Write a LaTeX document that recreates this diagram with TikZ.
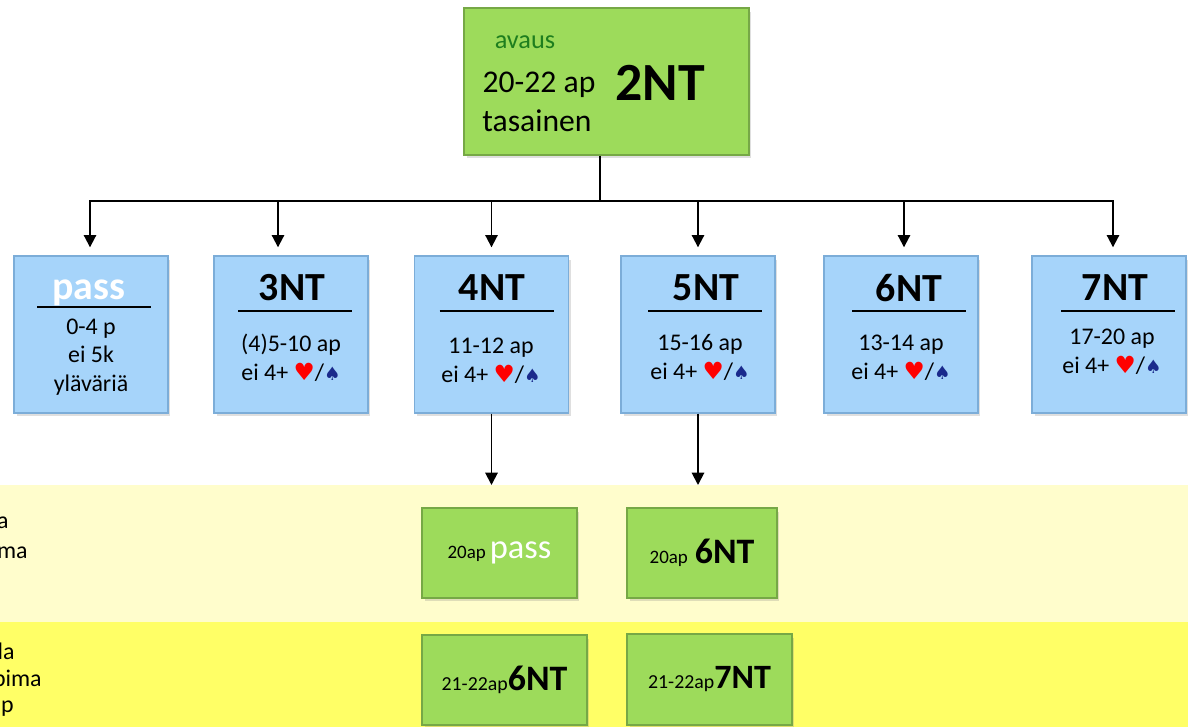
\documentclass[tikz,border=0pt]{standalone}
\usepackage{fontspec}
\setmainfont{Carlito}
\newfontfamily\suitfont{DejaVu Sans}
\usepackage{xcolor}
\definecolor{boxgreen}{HTML}{9DDB5B}
\definecolor{edgegreen}{HTML}{76A846}
\definecolor{boxblue}{HTML}{A6D4FA}
\definecolor{edgeblue}{HTML}{7CADD8}
\definecolor{bandpale}{HTML}{FFFDCC}
\definecolor{bandyellow}{HTML}{FFFF66}
\definecolor{avausgreen}{HTML}{1E7E1E}
\definecolor{spadeblue}{HTML}{1A2A8C}
\usetikzlibrary{arrows.meta,shadows}
\newcommand{\fs}[2]{\fontsize{#1}{#2}\selectfont}
\newcommand{\hearts}{{\suitfont\color{red}\fs{13.5}{16}♥}}
\newcommand{\spades}{{\suitfont\color{spadeblue}\fs{10.5}{16}♠}}

\begin{document}
\begin{tikzpicture}[x=0.02cm,y=-0.02cm,
    greenbox/.style={draw=edgegreen,line width=0.8pt,fill=boxgreen,inner sep=0pt,
      drop shadow={shadow xshift=0.05cm,shadow yshift=-0.07cm,opacity=0.25}},
    bluebox/.style={draw=edgeblue,line width=0.8pt,fill=boxblue,inner sep=0pt,
      minimum width=3.08cm,minimum height=3.14cm,
      drop shadow={shadow xshift=0.05cm,shadow yshift=-0.07cm,opacity=0.25}},
    bidtitle/.style={font=\bfseries\fs{22.7}{26},inner sep=0pt},
    detail/.style={font=\fs{13.6}{16.4},align=center,inner sep=0pt},
    rulel/.style={line width=1.1pt},
    conn/.style={line width=1.1pt},
    arr/.style={line width=1.1pt,-{Triangle[width=7pt,length=7pt]}},
    frag/.style={font=\fs{13.6}{16},anchor=east,inner sep=0pt}]
  \useasboundingbox (0,0) rectangle (1188,727);

  % taustakaistat
  \node[fill=bandpale,minimum width=23.76cm,minimum height=2.74cm,inner sep=0pt,
        anchor=north west] (bandA) at (0,485) {};
  \node[fill=bandyellow,minimum width=23.76cm,minimum height=2.1cm,inner sep=0pt,
        anchor=north west] (bandB) at (0,622) {};
  \node[frag] (fa1) at (9,523) {a};
  \node[frag] (fa2) at (28,550) {ima};
  \node[frag] (fb1) at (15,651) {la};
  \node[frag] (fb2) at (42,680) {pima};
  \node[frag] (fb3) at (14,709) {ap};

  % avaus
  \node[greenbox,minimum width=5.7cm,minimum height=2.94cm] (top) at (606.5,81.5) {};
  \node[font=\fs{15}{18},text=avausgreen,inner sep=0pt] (avaus) at (525,42) {avaus};
  \node[font=\fs{18}{21},inner sep=0pt] (hcp) at (539,85) {20-22 ap};
  \node[font=\fs{18}{21},inner sep=0pt] (tas) at (537,121) {tasainen};
  \node[font=\bfseries\fs{30.6}{34},inner sep=0pt] (bid) at (660,83) {2NT};

  % vastaukset
  \node[bluebox] (pass) at (91,334.5) {};
  \node[bidtitle,text=white] (passt) at (89,293) {pass};
  \draw[rulel] (pass.north) ++(-54,52) -- ++(114,0);
  \node[detail] (passd) at (91,357) {0-4 p\\ei 5k\\yläväriä};

  \node[bluebox] (nt3) at (291,334.5) {};
  \node[bidtitle] (nt3t) at (292,288) {3NT};
  \draw[rulel] (nt3.north) ++(-53,56) -- ++(114,0);
  \node[detail] (nt3d) at (291,358) {(4)5-10 ap\\ei 4+ \hearts/\spades};

  \node[bluebox] (nt4) at (491.5,334.5) {};
  \node[bidtitle] (nt4t) at (492,288) {4NT};
  \draw[rulel] (nt4.north) ++(-52,56) -- ++(114,0);
  \node[detail] (nt4d) at (491,361) {11-12 ap\\ei 4+ \hearts/\spades};

  \node[bluebox] (nt5) at (698,334.5) {};
  \node[bidtitle] (nt5t) at (706,288) {5NT};
  \draw[rulel] (nt5.north) ++(-50,56) -- ++(114,0);
  \node[detail] (nt5d) at (700,357.5) {15-16 ap\\ei 4+ \hearts/\spades};

  \node[bluebox] (nt6) at (901,334.5) {};
  \node[bidtitle] (nt6t) at (909,288) {6NT};
  \draw[rulel] (nt6.north) ++(-49,56) -- ++(114,0);
  \node[detail] (nt6d) at (901,357.5) {13-14 ap\\ei 4+ \hearts/\spades};

  \node[bluebox] (nt7) at (1109,334.5) {};
  \node[bidtitle] (nt7t) at (1115,288) {7NT};
  \draw[rulel] (nt7.north) ++(-48,56) -- ++(114,0);
  \node[detail] (nt7d) at (1112,351.5) {17-20 ap\\ei 4+ \hearts/\spades};

  % jatkot
  \node[greenbox,minimum width=3.1cm,minimum height=1.8cm] (g1) at (499.5,553)
    {{\fs{10.8}{13}20ap} {\fs{19.6}{22}\color{white}pass}};
  \node[greenbox,minimum width=3.0cm,minimum height=1.8cm] (g2) at (702,553)
    {{\fs{10.8}{13}20ap}\, {\bfseries\fs{20.4}{22}6NT}};
  \node[greenbox,minimum width=3.3cm,minimum height=1.8cm] (g3) at (504.5,680)
    {{\fs{11.3}{13}21-22ap}{\bfseries\fs{20.4}{22}6NT}};
  \node[greenbox,minimum width=3.3cm,minimum height=1.82cm] (g4) at (709.5,679.5)
    {{\fs{11.3}{13}21-22ap}{\bfseries\fs{19.4}{22}7NT}};

  % nuolet
  \coordinate (split) at (600,201);
  \draw[conn] (top.south -| split) -- (split);
  \draw[arr,shorten >=0.16cm] (split) -| ([xshift=-0.02cm]pass.north);
  \draw[arr,shorten >=0.16cm] (split) -| ([xshift=-0.26cm]nt3.north);
  \draw[arr,shorten >=0.16cm] (split) -| (nt4.north);
  \draw[arr,shorten >=0.16cm] (split) -| (nt5.north);
  \draw[arr,shorten >=0.16cm] (split) -| ([xshift=0.06cm]nt6.north);
  \draw[arr,shorten >=0.16cm] (split) -| ([xshift=0.08cm]nt7.north);
  \draw[arr] (nt4.south) -- (nt4.south |- bandA.north);
  \draw[arr] (nt5.south) -- (nt5.south |- bandA.north);
\end{tikzpicture}
\end{document}
